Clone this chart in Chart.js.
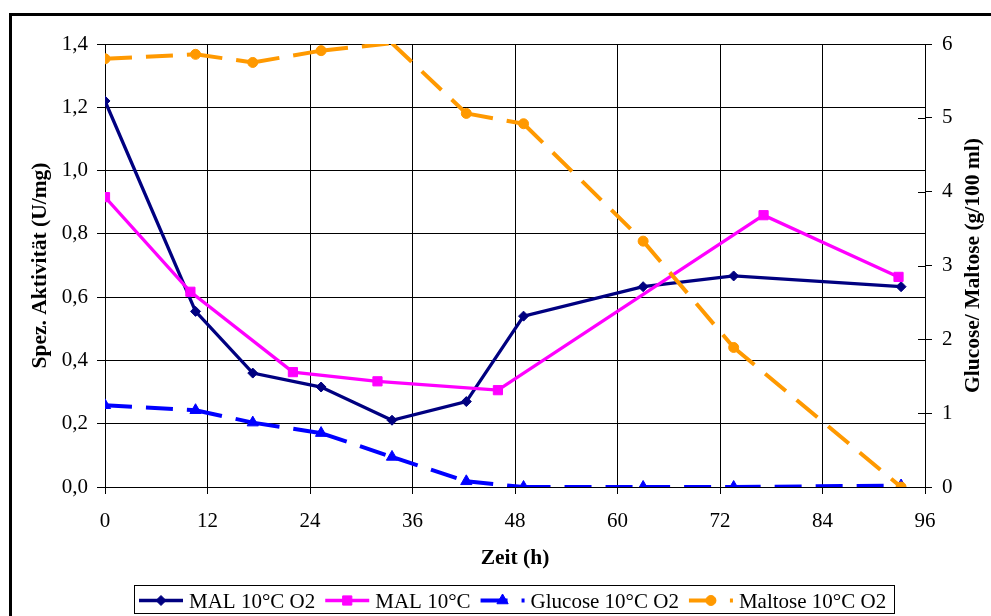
<!DOCTYPE html>
<html lang="de">
<head>
<meta charset="UTF-8">
<title>MAL 10°C – Aktivität und Zucker</title>
<script src="https://cdn.jsdelivr.net/npm/chart.js"></script>
<style>
  body { margin: 0; background: #fff; overflow: hidden; }
  .frame {
    position: absolute; left: 9px; top: 13px;
    width: 1100px; height: 700px;
    border: 3px solid #000;
  }
  #chart { position: absolute; left: 0; top: 0; }
</style>
</head>
<body>
<div class="frame"></div>
<canvas id="chart" width="991" height="616"></canvas>
<script>
// Probenahmezeiten (h)
const zeitO2 = [0, 10.6, 17.3, 25.3, 33.6, 42.3, 49.0, 63.0, 73.6, 93.2];
const zeit10 = [0, 10, 22, 31.9, 46, 77.1, 92.9];

// spez. Aktivität (U/mg)
const malO2 = [1.22, 0.555, 0.36, 0.316, 0.211, 0.27, 0.54, 0.633, 0.667, 0.633];
const mal10 = [0.916, 0.617, 0.363, 0.334, 0.306, 0.859, 0.664];

// Zucker (g/100 ml)
const glucoseO2 = [1.107, 1.04, 0.872, 0.73, 0.407, 0.077, 0, 0, 0, 0.02];
const maltoseO2 = [5.80, 5.86, 5.75, 5.91, 6.01, 5.06, 4.92, 3.33, 1.89, 0];

// Achsenteilung
const zeitTicks = [0, 12, 24, 36, 48, 60, 72, 84, 96];
const aktivTicks = [0, 0.2, 0.4, 0.6, 0.8, 1.0, 1.2, 1.4];
const zuckerTicks = [0, 1, 2, 3, 4, 5, 6];

const FONT = '"Liberation Serif", "Times New Roman", serif';
const DASH = [27, 14];

function pts(xs, ys) {
  return xs.map((x, i) => ({ x: x, y: ys[i] }));
}

// Excel-artig: Strichmuster beginnt an jedem Punkt neu
const restartDash = { borderDashOffset: c => c.p0DataIndex * 0.001 };

const markerSize = [5, 6.5, 6.5, 5];

// Legende unten, Linie + Marker wie im Diagramm
const bottomLegend = {
  id: 'bottomLegend',
  afterDraw(chart) {
    const ctx = chart.ctx;
    ctx.save();
    ctx.fillStyle = '#fff';
    ctx.fillRect(134, 585, 760, 28);
    ctx.strokeStyle = '#000';
    ctx.lineWidth = 1;
    ctx.strokeRect(134.5, 585.5, 760, 28);

    ctx.font = '21px ' + FONT;
    ctx.textBaseline = 'alphabetic';
    ctx.textAlign = 'left';
    let x = 139;
    const y = 600.5;
    chart.data.datasets.forEach((ds, i) => {
      ctx.strokeStyle = ds.borderColor;
      ctx.lineWidth = ds.borderWidth;
      ctx.setLineDash(ds.borderDash || []);
      ctx.beginPath();
      ctx.moveTo(x, y);
      ctx.lineTo(x + 44, y);
      ctx.stroke();
      ctx.setLineDash([]);
      ctx.fillStyle = ds.pointBackgroundColor;
      ctx.strokeStyle = ds.borderColor;
      ctx.lineWidth = 1;
      Chart.helpers.drawPoint(ctx, {
        pointStyle: ds.pointStyle, radius: markerSize[i], rotation: 0, borderWidth: 1
      }, x + 22, y);
      ctx.fillStyle = '#000';
      ctx.fillText(ds.label, x + 50, 608);
      x += 50 + ctx.measureText(ds.label).width + 10;
    });
    ctx.restore();
  }
};

// rechte Achse: Teilstriche kreuzend, Titel von unten nach oben
const rightAxisExtras = {
  id: 'rightAxisExtras',
  afterDraw(chart) {
    const ctx = chart.ctx;
    const s = chart.scales.y2;
    ctx.save();
    ctx.strokeStyle = '#000';
    ctx.lineWidth = 1;
    s.ticks.forEach(t => {
      const py = Math.round(s.getPixelForValue(t.value)) + 0.5;
      ctx.beginPath();
      ctx.moveTo(s.left - 7, py);
      ctx.lineTo(s.left, py);
      ctx.stroke();
    });
    const area = chart.chartArea;
    ctx.translate(973, (area.top + area.bottom) / 2);
    ctx.rotate(-Math.PI / 2);
    ctx.font = 'bold 21.5px ' + FONT;
    ctx.textAlign = 'center';
    ctx.textBaseline = 'middle';
    ctx.fillStyle = '#000';
    ctx.fillText('Glucose/ Maltose (g/100 ml)', 0, 0);
    ctx.restore();
  }
};

const tickFont = { family: FONT, size: 21 };
const titleFont = { family: FONT, size: 21.5, weight: 'bold' };

new Chart(document.getElementById('chart'), {
  type: 'line',
  data: {
    datasets: [
      {
        label: 'MAL 10°C O2',
        data: pts(zeitO2, malO2),
        yAxisID: 'y',
        borderColor: '#000080',
        backgroundColor: '#000080',
        pointBackgroundColor: '#000080',
        borderWidth: 3.3,
        pointStyle: 'rectRot',
        pointRadius: markerSize[0],
        pointBorderWidth: 1,
        order: 4
      },
      {
        label: 'MAL 10°C',
        data: pts(zeit10, mal10),
        yAxisID: 'y',
        borderColor: '#FF00FF',
        backgroundColor: '#FF00FF',
        pointBackgroundColor: '#FF00FF',
        borderWidth: 3.3,
        pointStyle: 'rect',
        pointRadius: markerSize[1],
        pointBorderWidth: 1,
        order: 3
      },
      {
        label: 'Glucose 10°C O2',
        data: pts(zeitO2, glucoseO2),
        yAxisID: 'y2',
        borderColor: '#0000FF',
        backgroundColor: '#0000FF',
        pointBackgroundColor: '#0000FF',
        borderWidth: 4,
        borderDash: DASH,
        segment: restartDash,
        pointStyle: 'triangle',
        pointRadius: markerSize[2],
        pointBorderWidth: 1,
        order: 2
      },
      {
        label: 'Maltose 10°C O2',
        data: pts(zeitO2, maltoseO2),
        yAxisID: 'y2',
        borderColor: '#FF9900',
        backgroundColor: '#FF9900',
        pointBackgroundColor: '#FF9900',
        borderWidth: 4,
        borderDash: DASH,
        segment: restartDash,
        pointStyle: 'circle',
        // Punkte oberhalb der Achse werden nicht gezeichnet
        pointRadius: c => (c.raw && c.raw.y > 6) ? 0 : markerSize[3],
        pointBorderWidth: 1,
        order: 1
      }
    ]
  },
  options: {
    responsive: false,
    animation: false,
    layout: { padding: { top: 44, left: 0, right: 0, bottom: 0 } },
    elements: { line: { tension: 0, borderCapStyle: 'butt' } },
    plugins: {
      legend: { display: false },
      tooltip: { enabled: false }
    },
    scales: {
      x: {
        type: 'linear',
        min: 0,
        max: 96,
        afterBuildTicks: s => { s.ticks = zeitTicks.map(v => ({ value: v })); },
        afterFit: s => { s.height = 129; },
        ticks: { font: tickFont, color: '#000', padding: 15, maxRotation: 0 },
        grid: { color: '#000', lineWidth: 1, tickLength: 7, tickColor: '#000' },
        border: { color: '#000', width: 1 },
        title: {
          display: true, text: 'Zeit (h)', font: titleFont, color: '#000',
          padding: { top: 0, bottom: 45 }
        }
      },
      y: {
        position: 'left',
        min: 0,
        max: 1.4,
        afterBuildTicks: s => { s.ticks = aktivTicks.map(v => ({ value: v })); },
        afterFit: s => { s.width = 105; },
        ticks: {
          font: tickFont, color: '#000', padding: 9,
          callback: v => v.toFixed(1).replace('.', ',')
        },
        grid: { color: '#000', lineWidth: 1, tickLength: 8, tickColor: '#000' },
        border: { color: '#000', width: 1 },
        title: {
          display: true, text: 'Spez. Aktivität (U/mg)', font: titleFont, color: '#000',
          padding: { top: 28, bottom: 0 }
        }
      },
      y2: {
        position: 'right',
        min: 0,
        max: 6,
        afterBuildTicks: s => { s.ticks = zuckerTicks.map(v => ({ value: v })); },
        afterFit: s => { s.width = 66; },
        ticks: { font: tickFont, color: '#000', padding: 10 },
        grid: { drawOnChartArea: false, color: '#000', tickLength: 7, tickColor: '#000' },
        border: { color: '#000', width: 1 }
      }
    }
  },
  plugins: [bottomLegend, rightAxisExtras]
});
</script>
</body>
</html>
